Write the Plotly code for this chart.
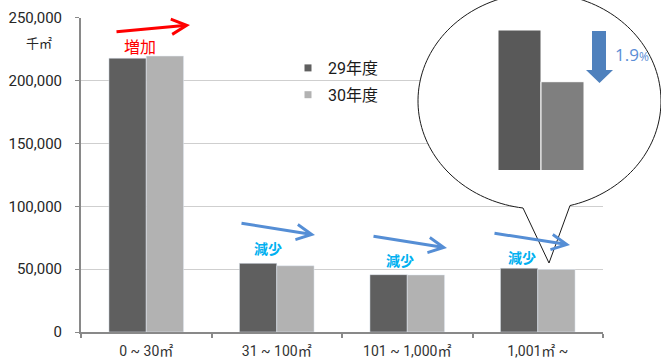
import numpy as np
import plotly.graph_objects as go

# ---- data -------------------------------------------------------------
categories = ["0 ~ 30㎡", "31 ~ 100㎡", "101 ~ 1,000㎡", "1,001㎡ ~"]
area_h29 = [217800, 54600, 45600, 50700]
area_h30 = [219500, 52700, 45400, 49740]
series_names = ["29年度", "30年度"]
y_ticks = [0, 50000, 100000, 150000, 200000, 250000]
trend_labels = ["増加", "減少", "減少", "減少"]

# ---- page geometry ----------------------------------------------------
W, H = 661, 360
ML, MR, MT, MB = 81, 0, 0, 28
PW, PH = W - ML - MR, H - MT - MB


def px(x):
    """page x (pixels) -> paper fraction"""
    return (x - ML) / PW


def py(y):
    """page y (pixels, from top) -> paper fraction"""
    return (H - MB - y) / PH


FONT = "Roboto, 'Noto Sans CJK JP', sans-serif"
CJK = "'Noto Sans CJK JP', sans-serif"
DARK, LIGHT = "#5f5f5f", "#b2b2b2"
AXIS = "#898989"
BLUE_ARROW = "#558ed5"

fig = go.Figure()

# main grouped bars
fig.add_trace(go.Bar(x=categories, y=area_h29, name=series_names[0],
                     marker_color=DARK, showlegend=False))
fig.add_trace(go.Bar(x=categories, y=area_h30, name=series_names[1],
                     marker_color=LIGHT, showlegend=False))

# small square legend keys for the two series
for i, (nm, col) in enumerate(zip(series_names, [DARK, LIGHT])):
    fig.add_trace(go.Scatter(x=[None], y=[None], mode="markers", name=nm,
                             legendgroup=f"g{i}",
                             marker=dict(symbol="square", size=7, color=col)))

# magnified view of the last category inside the callout
last = categories[-1]
fig.add_trace(go.Bar(x=[last], y=[area_h29[-1]], xaxis="x3", yaxis="y3",
                     marker=dict(color="#595959", line=dict(color="white", width=1)),
                     showlegend=False, hoverinfo="skip"))
fig.add_trace(go.Bar(x=[last], y=[area_h30[-1]], xaxis="x3", yaxis="y3",
                     marker=dict(color="#7f7f7f", line=dict(color="white", width=1)),
                     showlegend=False, hoverinfo="skip"))

# ---- callout bubble (drawn on its own overlay subplot, pixel units) ----
cx, cy, ra, rb = 539.5, 101.0, 121.5, 108.0
tail_left_x, tail_right_x, tip = 523.0, 570.0, (549.0, 263.0)
t0 = np.arccos((tail_left_x - cx) / ra)
t1 = 2 * np.pi + np.arccos((tail_right_x - cx) / ra)
ts = np.linspace(t0, t1, 160)
pts = [(cx + ra * np.cos(t), cy + rb * np.sin(t)) for t in ts]
bubble = "M" + " L".join(f"{x:.2f},{y:.2f}" for x, y in pts)
bubble += f" L{tip[0]},{tip[1]} Z"

down_arrow = "M592,31 H606 V70 H613 L599.5,83 L586,70 H592 Z"

shapes = [
    dict(type="path", path=bubble, xref="x2", yref="y2", layer="below",
         fillcolor="white", line=dict(color="#1a1a1a", width=1)),
    dict(type="path", path=down_arrow, xref="x2", yref="y2", layer="below",
         fillcolor="#4f81bd", line=dict(width=0)),
]

# ---- annotations ------------------------------------------------------
def label(text, x, y, size, color, family=CJK):
    return dict(text=text, x=px(x), y=py(y), xref="paper", yref="paper",
                xanchor="center", yanchor="middle", showarrow=False,
                font=dict(family=family, size=size, color=color))


pct = (1 - area_h30[-1] / area_h29[-1]) * 100
annotations = [
    label("千㎡", 38.5, 43, 13, "#262626"),
    label(f"{pct:.1f}<span style='font-size:12px'>%</span>", 632, 55, 17,
          "#5b8ed6", family="'Open Sans', sans-serif"),
    label(trend_labels[0], 140, 46, 16, "#ff0000"),
]
for (lx, ly), lab in zip([(268, 248), (400, 260), (522, 257)], trend_labels[1:]):
    annotations.append(label(f"<b>{lab}</b>", lx, ly, 14, "#00b0f0"))

# trend arrows: (tail, head, colour)
arrows = [
    ((115, 32), (190, 25), "#ff0000"),
    ((240, 223), (315, 235), BLUE_ARROW),
    ((372, 236), (447, 248), BLUE_ARROW),
    ((493, 233), (570, 245), BLUE_ARROW),
]
for (tx, ty), (hx, hy), col in arrows:
    annotations.append(dict(text="", x=px(hx), y=py(hy), xref="paper", yref="paper",
                            ax=tx - hx, ay=ty - hy, showarrow=True,
                            arrowhead=5, arrowsize=1, arrowwidth=3,
                            arrowcolor=col, standoff=0))

fig.update_layout(
    width=W, height=H,
    margin=dict(l=ML, r=MR, t=MT, b=MB, pad=0),
    paper_bgcolor="white", plot_bgcolor="rgba(0,0,0,0)",
    barmode="group", bargap=0.428, bargroupgap=0,
    font=dict(family=FONT, color="#333333"),
    showlegend=True,
    legend=dict(x=px(288), y=py(51), xanchor="left", yanchor="top",
                font=dict(family=FONT, size=16, color="#1a1a1a"),
                bgcolor="rgba(0,0,0,0)", tracegroupgap=3, itemwidth=30),
    xaxis=dict(domain=[0, px(603)], anchor="y", showgrid=False, automargin=False,
               showline=True, linecolor=AXIS, linewidth=2,
               ticks="outside", tickson="boundaries", ticklen=4,
               tickcolor=AXIS, tickwidth=1.5,
               tickfont=dict(size=14, color="#333333"), ticklabelstandoff=5),
    yaxis=dict(domain=[0, py(17.7)], anchor="x", range=[0, 250000], automargin=False,
               tickvals=y_ticks, tickformat=",d",
               showgrid=True, gridcolor="#cfcfcf", gridwidth=1.2,
               zeroline=False, showline=True, linecolor=AXIS, linewidth=2,
               ticks="outside", ticklen=4, tickcolor=AXIS,
               tickfont=dict(size=15, color="#262626"), ticklabelstandoff=10),
    # overlay canvas for the callout outline
    xaxis2=dict(domain=[px(416), 1], anchor="y2", range=[416, 661], visible=False,
                showgrid=False, zeroline=False, automargin=False),
    yaxis2=dict(domain=[py(266), 1], anchor="x2", range=[266, 0], visible=False,
                showgrid=False, zeroline=False, automargin=False),
    # magnified bars
    xaxis3=dict(domain=[px(498), px(584)], anchor="y3", range=[-0.286, 0.286],
                visible=False, showgrid=False, automargin=False),
    yaxis3=dict(domain=[py(170), py(30)], anchor="x3", range=[48100, 50700],
                visible=False, showgrid=False, zeroline=False, automargin=False),
    shapes=shapes,
    annotations=annotations,
)

fig.write_html("out.html")
